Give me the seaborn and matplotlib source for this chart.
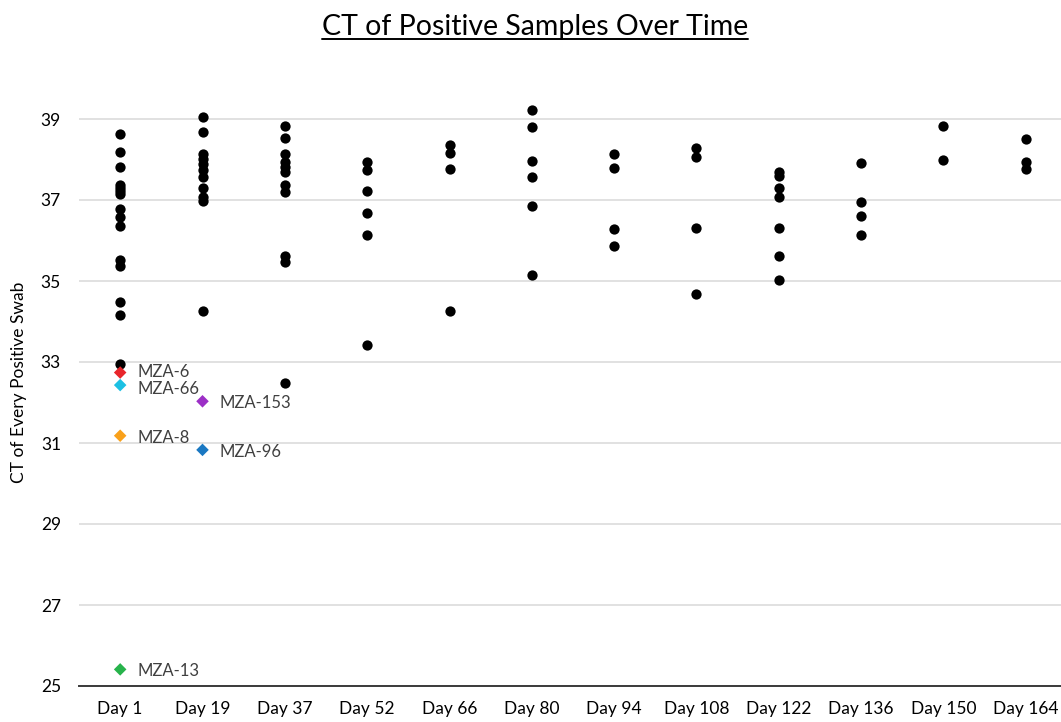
import numpy as np
import pandas as pd
import seaborn as sns
import matplotlib.pyplot as plt
from matplotlib.lines import Line2D

# sampling days (category order on the x axis)
days = ["Day 1", "Day 19", "Day 37", "Day 52", "Day 66", "Day 80",
        "Day 94", "Day 108", "Day 122", "Day 136", "Day 150", "Day 164"]

# CT of every positive swab, per day (black dots)
ct_day1 = [38.64, 38.18, 37.82, 37.37, 37.30, 37.23, 37.15, 36.78, 36.57, 36.35,
           35.52, 35.38, 34.47, 34.17, 32.95]
ct_day19 = [39.06, 38.69, 38.14, 38.01, 37.90, 37.74, 37.56, 37.30, 37.08, 36.98, 34.25]
ct_day37 = [38.82, 38.53, 38.14, 37.95, 37.82, 37.68, 37.38, 37.19, 35.62, 35.46, 32.48]
ct_day52 = [37.93, 37.75, 37.23, 36.69, 36.14, 33.43]
ct_day66 = [38.36, 38.15, 37.77, 34.27]
ct_day80 = [39.23, 38.81, 37.97, 37.56, 36.84, 35.16]
ct_day94 = [38.13, 37.79, 36.29, 35.87]
ct_day108 = [38.28, 38.07, 36.30, 34.69]
ct_day122 = [37.70, 37.60, 37.29, 37.08, 36.30, 35.62, 35.03]
ct_day136 = [37.91, 36.96, 36.61, 36.14]
ct_day150 = [38.82, 37.98]
ct_day164 = [38.51, 37.95, 37.77]

# highlighted samples (diamonds)
hl_names = ["MZA-6", "MZA-66", "MZA-8", "MZA-13", "MZA-153", "MZA-96"]
hl_days = ["Day 1", "Day 1", "Day 1", "Day 1", "Day 19", "Day 19"]
hl_ct = [32.74, 32.43, 31.18, 25.41, 32.03, 30.83]
hl_colors = ["#e8262b", "#1cc0e3", "#f9a11b", "#27b34b", "#9c2fc6", "#1a78c2"]
# small vertical nudges (points) so the two close labels don't collide
label_dy = [0.5, -3, -1.5, -1.5, -1.5, -1.5]

all_ct = [ct_day1, ct_day19, ct_day37, ct_day52, ct_day66, ct_day80,
          ct_day94, ct_day108, ct_day122, ct_day136, ct_day150, ct_day164]
df = pd.DataFrame({
    "day": [d for d, vals in zip(days, all_ct) for _ in vals],
    "ct": [v for vals in all_ct for v in vals],
})
hl = pd.DataFrame({"day": hl_days, "ct": hl_ct, "name": hl_names})

sns.set_theme(style="white")
plt.rcParams["font.family"] = ["Lato", "DejaVu Sans"]

fig = plt.figure(figsize=(10.61, 7.22), dpi=100)
ax = fig.add_axes([79 / 1061, 36 / 722, 988 / 1061, 607.5 / 722])

sns.stripplot(data=df, x="day", y="ct", order=days, jitter=False,
              color="black", size=7.4, linewidth=0, ax=ax, zorder=3)
sns.stripplot(data=hl, x="day", y="ct", order=days, hue="name",
              palette=dict(zip(hl_names, hl_colors)), jitter=False,
              marker="D", size=6.4, linewidth=0, legend=False, ax=ax, zorder=4)

for name, day, ct, dy in zip(hl_names, hl_days, hl_ct, label_dy):
    ax.annotate(name, (days.index(day), ct), xytext=(12.5, dy),
                textcoords="offset points", va="center", ha="left",
                fontsize=12, color="#404040")

ax.set_xlim(-0.5, len(days) - 0.5)
ax.set_ylim(25, 40)
ax.set_yticks(np.arange(25, 40, 2))
ax.yaxis.grid(True, color="#d9d9d9", linewidth=1.1)
ax.set_axisbelow(True)
for side in ["left", "right", "top"]:
    ax.spines[side].set_visible(False)
ax.spines["bottom"].set_color("#3a3a3a")
ax.spines["bottom"].set_linewidth(1.4)
ax.tick_params(axis="x", direction="in", length=4, width=1, color="#3a3a3a",
               pad=11, labelsize=12.5, labelcolor="black")
ax.tick_params(axis="y", length=0, pad=13, labelsize=12.5, labelcolor="black")
ax.set_xlabel("")
ax.set_ylabel("CT of Every Positive Swab", fontsize=12.5, color="black")
ax.yaxis.set_label_coords(-0.053, 0.5)

title = fig.text(0.504, 0.962, "CT of Positive Samples Over Time",
                 ha="center", va="center", fontsize=20.5, color="black")
fig.canvas.draw()
bb = title.get_window_extent()
fig.add_artist(Line2D([bb.x0, bb.x1], [bb.y0 + 1, bb.y0 + 1],
                      transform=None, color="black", linewidth=1.4))

fig.savefig("out.png", dpi=100)
